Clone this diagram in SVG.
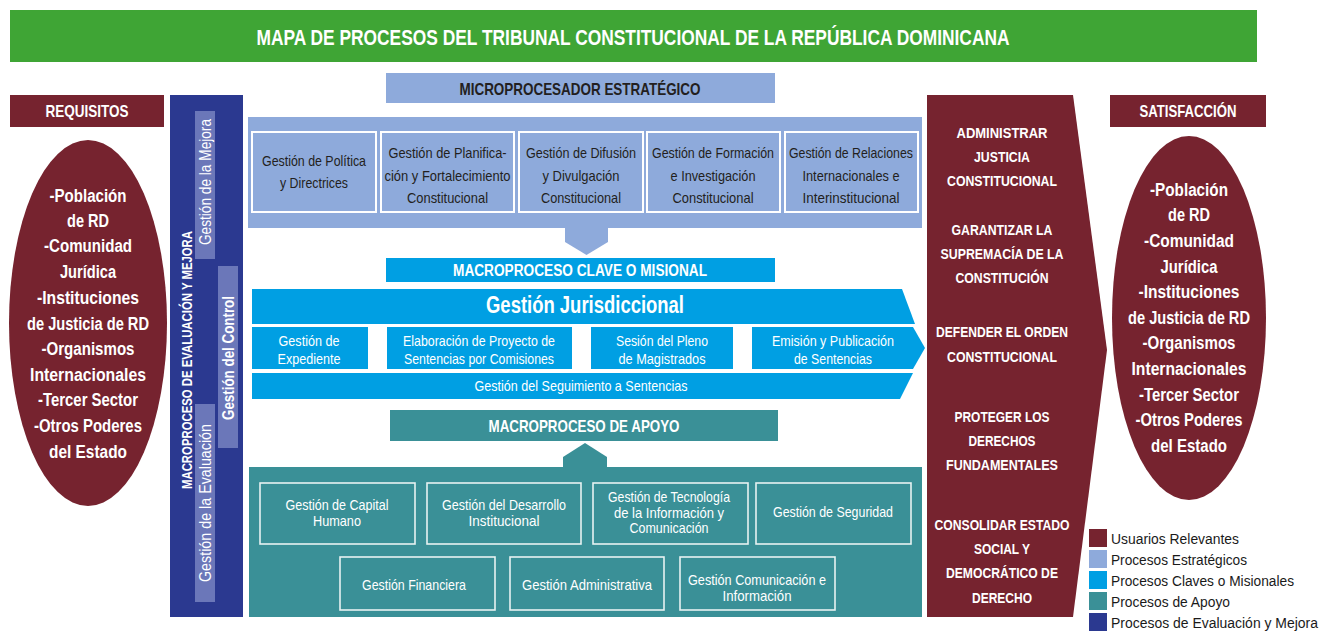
<svg xmlns="http://www.w3.org/2000/svg" width="1333" height="637" viewBox="0 0 1333 637">
<style>
text{font-family:"Liberation Sans",Arial,sans-serif;text-anchor:middle}
.w{fill:#fff}
.k{fill:#231f20}
.b{font-weight:bold}
.s15{font-size:15px}
.s16{font-size:16px}
.s17{font-size:17px}
.s18{font-size:18px}
.mar{fill:#76232f}
.est{fill:#8eaadb}
.cla{fill:#009fe3}
.apo{fill:#3a9097}
.nav{fill:#2b3990}
.sub{fill:#6b77b9}
.ebox{fill:none;stroke:#fff;stroke-width:2}
.abox{fill:none;stroke:#e8f2f2;stroke-width:1.6}
.lg{text-anchor:start;font-size:15.5px;fill:#1a1a1a}
</style>

<g id="title">
<rect x="10" y="10" width="1247" height="52" fill="#3fa535"/>
<text x="633" y="45" class="w b" font-size="22" textLength="753" lengthAdjust="spacingAndGlyphs">MAPA DE PROCESOS DEL TRIBUNAL CONSTITUCIONAL DE LA REPÚBLICA DOMINICANA</text>
</g>

<g id="requisitos">
<rect x="10" y="95" width="154" height="32" class="mar"/>
<text x="87" y="117" class="w b s17" textLength="83" lengthAdjust="spacingAndGlyphs">REQUISITOS</text>
</g>

<g id="requisitos-ellipse">
<ellipse cx="88" cy="323" rx="79" ry="183" class="mar"/>
<g class="w b s18">
<text x="88" y="202" textLength="77" lengthAdjust="spacingAndGlyphs">-Población</text>
<text x="88" y="227" textLength="42" lengthAdjust="spacingAndGlyphs">de RD</text>
<text x="88" y="252" textLength="88" lengthAdjust="spacingAndGlyphs">-Comunidad</text>
<text x="88" y="278" textLength="56" lengthAdjust="spacingAndGlyphs">Jurídica</text>
<text x="88" y="304" textLength="102" lengthAdjust="spacingAndGlyphs">-Instituciones</text>
<text x="88" y="330" textLength="122" lengthAdjust="spacingAndGlyphs">de Justicia de RD</text>
<text x="88" y="355" textLength="93" lengthAdjust="spacingAndGlyphs">-Organismos</text>
<text x="88" y="381" textLength="116" lengthAdjust="spacingAndGlyphs">Internacionales</text>
<text x="88" y="406" textLength="100" lengthAdjust="spacingAndGlyphs">-Tercer Sector</text>
<text x="88" y="432" textLength="108" lengthAdjust="spacingAndGlyphs">-Otros Poderes</text>
<text x="88" y="458" textLength="78" lengthAdjust="spacingAndGlyphs">del Estado</text>
</g>
</g>

<g id="evaluacion-mejora">
<rect x="170" y="95" width="73" height="522" class="nav"/>
<text x="191.5" y="360" class="w b" font-size="15" transform="rotate(-90 191.5 360)" textLength="258" lengthAdjust="spacingAndGlyphs">MACROPROCESO DE EVALUACIÓN Y MEJORA</text>
</g>
<g id="gestion-mejora">
<rect x="195" y="111" width="20" height="148" class="sub"/>
<text x="210.5" y="182" class="w s16" transform="rotate(-90 210.5 182)" textLength="126" lengthAdjust="spacingAndGlyphs">Gestión de la Mejora</text>
</g>
<g id="gestion-control">
<rect x="218" y="266" width="20" height="182" class="sub"/>
<text x="233.5" y="358" class="w b s16" transform="rotate(-90 233.5 358)" textLength="124" lengthAdjust="spacingAndGlyphs">Gestión del Control</text>
</g>
<g id="gestion-evaluacion">
<rect x="195" y="404" width="20" height="198" class="sub"/>
<text x="210.5" y="503" class="w s16" transform="rotate(-90 210.5 503)" textLength="158" lengthAdjust="spacingAndGlyphs">Gestión de la Evaluación</text>
</g>

<g id="estrategico-header">
<rect x="386" y="73" width="389" height="30" class="est"/>
<text x="580" y="95" class="k b s17" textLength="241" lengthAdjust="spacingAndGlyphs">MICROPROCESADOR ESTRATÉGICO</text>
</g>
<g id="estrategico">
<rect x="248" y="117" width="674" height="111" class="est"/>
</g>
<g id="politica">
<rect x="252" y="132" width="124" height="80" class="ebox"/>
<text x="314" y="166" class="k s15" textLength="104" lengthAdjust="spacingAndGlyphs">Gestión de Política</text>
<text x="314" y="188" class="k s15" textLength="68" lengthAdjust="spacingAndGlyphs">y Directrices</text>
</g>
<g id="planificacion">
<rect x="381" y="132" width="133" height="80" class="ebox"/>
<text x="447.5" y="158" class="k s15" textLength="118" lengthAdjust="spacingAndGlyphs">Gestión de Planifica-</text>
<text x="447.5" y="181" class="k s15" textLength="126" lengthAdjust="spacingAndGlyphs">ción y Fortalecimiento</text>
<text x="447.5" y="203" class="k s15" textLength="81" lengthAdjust="spacingAndGlyphs">Constitucional</text>
</g>
<g id="difusion">
<rect x="519" y="132" width="124" height="80" class="ebox"/>
<text x="581" y="158" class="k s15" textLength="110" lengthAdjust="spacingAndGlyphs">Gestión de Difusión</text>
<text x="581" y="181" class="k s15" textLength="77" lengthAdjust="spacingAndGlyphs">y Divulgación</text>
<text x="581" y="203" class="k s15" textLength="80" lengthAdjust="spacingAndGlyphs">Constitucional</text>
</g>
<g id="formacion">
<rect x="647" y="132" width="133" height="80" class="ebox"/>
<text x="713" y="158" class="k s15" textLength="122" lengthAdjust="spacingAndGlyphs">Gestión de Formación</text>
<text x="713" y="181" class="k s15" textLength="85" lengthAdjust="spacingAndGlyphs">e Investigación</text>
<text x="713" y="203" class="k s15" textLength="81" lengthAdjust="spacingAndGlyphs">Constitucional</text>
</g>
<g id="relaciones">
<rect x="785" y="132" width="133" height="80" class="ebox"/>
<text x="851" y="158" class="k s15" textLength="124" lengthAdjust="spacingAndGlyphs">Gestión de Relaciones</text>
<text x="851" y="181" class="k s15" textLength="97" lengthAdjust="spacingAndGlyphs">Internacionales e</text>
<text x="851" y="203" class="k s15" textLength="97" lengthAdjust="spacingAndGlyphs">Interinstitucional</text>
</g>

<g id="connectors">
<polygon points="565,228 608,228 608,242 586.5,255 565,242" class="est"/>
<polygon points="563,467 563,457 585,443 607,457 607,467" class="apo"/>
</g>

<g id="clave-header">
<rect x="386" y="258" width="389" height="24" class="cla"/>
<text x="580" y="276" class="w b s16" textLength="254" lengthAdjust="spacingAndGlyphs">MACROPROCESO CLAVE O MISIONAL</text>
</g>
<g id="jurisdiccional">
<polygon points="252,289 902,289 915,324 252,324" class="cla"/>
<text x="585" y="313" class="w b" font-size="23" textLength="198" lengthAdjust="spacingAndGlyphs">Gestión Jurisdiccional</text>
</g>
<g id="expediente">
<rect x="252" y="327" width="116" height="42" class="cla"/>
<text x="309" y="346" class="w s15" textLength="61" lengthAdjust="spacingAndGlyphs">Gestión de</text>
<text x="309" y="364" class="w s15" textLength="63" lengthAdjust="spacingAndGlyphs">Expediente</text>
</g>
<g id="elaboracion">
<rect x="387" y="327" width="185" height="42" class="cla"/>
<text x="479" y="346" class="w s15" textLength="152" lengthAdjust="spacingAndGlyphs">Elaboración de Proyecto de</text>
<text x="479" y="364" class="w s15" textLength="150" lengthAdjust="spacingAndGlyphs">Sentencias por Comisiones</text>
</g>
<g id="sesion">
<rect x="591" y="327" width="142" height="42" class="cla"/>
<text x="662" y="346" class="w s15" textLength="92" lengthAdjust="spacingAndGlyphs">Sesión del Pleno</text>
<text x="662" y="364" class="w s15" textLength="87" lengthAdjust="spacingAndGlyphs">de Magistrados</text>
</g>
<g id="emision">
<polygon points="752,327 913,327 925,348 913,369 752,369" class="cla"/>
<text x="833" y="346" class="w s15" textLength="122" lengthAdjust="spacingAndGlyphs">Emisión y Publicación</text>
<text x="833" y="364" class="w s15" textLength="78" lengthAdjust="spacingAndGlyphs">de Sentencias</text>
</g>
<g id="seguimiento">
<polygon points="252,373 913,373 900,399 252,399" class="cla"/>
<text x="581" y="391" class="w s15" textLength="213" lengthAdjust="spacingAndGlyphs">Gestión del Seguimiento a Sentencias</text>
</g>

<g id="apoyo-header">
<rect x="390" y="410" width="388" height="31" class="apo"/>
<text x="584" y="432" class="w b s17" textLength="191" lengthAdjust="spacingAndGlyphs">MACROPROCESO DE APOYO</text>
</g>
<g id="apoyo">
<rect x="249" y="467" width="673" height="150" class="apo"/>
</g>
<g id="capital">
<rect x="260" y="483" width="155" height="61" class="abox"/>
<text x="337" y="510" class="w s15" textLength="103" lengthAdjust="spacingAndGlyphs">Gestión de Capital</text>
<text x="337" y="526" class="w s15" textLength="48" lengthAdjust="spacingAndGlyphs">Humano</text>
</g>
<g id="desarrollo">
<rect x="427" y="483" width="154" height="61" class="abox"/>
<text x="504" y="510" class="w s15" textLength="124" lengthAdjust="spacingAndGlyphs">Gestión del Desarrollo</text>
<text x="504" y="526" class="w s15" textLength="71" lengthAdjust="spacingAndGlyphs">Institucional</text>
</g>
<g id="tecnologia">
<rect x="593" y="483" width="155" height="61" class="abox"/>
<text x="669" y="502" class="w s15" textLength="122" lengthAdjust="spacingAndGlyphs">Gestión de Tecnología</text>
<text x="669" y="518" class="w s15" textLength="110" lengthAdjust="spacingAndGlyphs">de la Información y</text>
<text x="669" y="533" class="w s15" textLength="79" lengthAdjust="spacingAndGlyphs">Comunicación</text>
</g>
<g id="seguridad">
<rect x="756" y="483" width="155" height="61" class="abox"/>
<text x="833" y="517" class="w s15" textLength="120" lengthAdjust="spacingAndGlyphs">Gestión de Seguridad</text>
</g>
<g id="financiera">
<rect x="340" y="557" width="155" height="53" class="abox"/>
<text x="414" y="590" class="w s15" textLength="104" lengthAdjust="spacingAndGlyphs">Gestión Financiera</text>
</g>
<g id="administrativa">
<rect x="510" y="557" width="154" height="53" class="abox"/>
<text x="587" y="590" class="w s15" textLength="130" lengthAdjust="spacingAndGlyphs">Gestión Administrativa</text>
</g>
<g id="comunicacion">
<rect x="680" y="557" width="155" height="53" class="abox"/>
<text x="757" y="585" class="w s15" textLength="138" lengthAdjust="spacingAndGlyphs">Gestión  Comunicación e</text>
<text x="757" y="601" class="w s15" textLength="69" lengthAdjust="spacingAndGlyphs">Información</text>
</g>

<g id="resultados">
<polygon points="927,95 1073,95 1107,350 1073,617 927,617" class="mar"/>
<g class="w b s15">
<text x="1002" y="138" textLength="91" lengthAdjust="spacingAndGlyphs">ADMINISTRAR</text>
<text x="1002" y="162" textLength="56" lengthAdjust="spacingAndGlyphs">JUSTICIA</text>
<text x="1002" y="186" textLength="110" lengthAdjust="spacingAndGlyphs">CONSTITUCIONAL</text>
<text x="1002" y="235" textLength="101" lengthAdjust="spacingAndGlyphs">GARANTIZAR LA</text>
<text x="1002" y="259" textLength="123" lengthAdjust="spacingAndGlyphs">SUPREMACÍA DE LA</text>
<text x="1002" y="283" textLength="93" lengthAdjust="spacingAndGlyphs">CONSTITUCIÓN</text>
<text x="1002" y="337" textLength="132" lengthAdjust="spacingAndGlyphs">DEFENDER EL ORDEN</text>
<text x="1002" y="362" textLength="110" lengthAdjust="spacingAndGlyphs">CONSTITUCIONAL</text>
<text x="1002" y="422" textLength="95" lengthAdjust="spacingAndGlyphs">PROTEGER LOS</text>
<text x="1002" y="446" textLength="67" lengthAdjust="spacingAndGlyphs">DERECHOS</text>
<text x="1002" y="470" textLength="112" lengthAdjust="spacingAndGlyphs">FUNDAMENTALES</text>
<text x="1002" y="530" textLength="135" lengthAdjust="spacingAndGlyphs">CONSOLIDAR ESTADO</text>
<text x="1002" y="554" textLength="56" lengthAdjust="spacingAndGlyphs">SOCIAL Y</text>
<text x="1002" y="578" textLength="112" lengthAdjust="spacingAndGlyphs">DEMOCRÁTICO DE</text>
<text x="1002" y="603" textLength="60" lengthAdjust="spacingAndGlyphs">DERECHO</text>
</g>
</g>

<g id="satisfaccion">
<rect x="1110" y="95" width="156" height="32" class="mar"/>
<text x="1188" y="117" class="w b s17" textLength="97" lengthAdjust="spacingAndGlyphs">SATISFACCIÓN</text>
</g>
<g id="satisfaccion-ellipse">
<ellipse cx="1189" cy="318" rx="77" ry="182" class="mar"/>
<g class="w b s18">
<text x="1189" y="196" textLength="78" lengthAdjust="spacingAndGlyphs">-Población</text>
<text x="1189" y="221" textLength="42" lengthAdjust="spacingAndGlyphs">de RD</text>
<text x="1189" y="247" textLength="90" lengthAdjust="spacingAndGlyphs">-Comunidad</text>
<text x="1189" y="273" textLength="57" lengthAdjust="spacingAndGlyphs">Jurídica</text>
<text x="1189" y="298" textLength="101" lengthAdjust="spacingAndGlyphs">-Instituciones</text>
<text x="1189" y="324" textLength="122" lengthAdjust="spacingAndGlyphs">de Justicia de RD</text>
<text x="1189" y="349" textLength="93" lengthAdjust="spacingAndGlyphs">-Organismos</text>
<text x="1189" y="375" textLength="115" lengthAdjust="spacingAndGlyphs">Internacionales</text>
<text x="1189" y="401" textLength="100" lengthAdjust="spacingAndGlyphs">-Tercer Sector</text>
<text x="1189" y="426" textLength="107" lengthAdjust="spacingAndGlyphs">-Otros Poderes</text>
<text x="1189" y="452" textLength="76" lengthAdjust="spacingAndGlyphs">del Estado</text>
</g>
</g>

<g id="leyenda">
<rect x="1089" y="529" width="18" height="18" class="mar"/>
<rect x="1089" y="550" width="18" height="18" class="est"/>
<rect x="1089" y="571" width="18" height="18" class="cla"/>
<rect x="1089" y="592" width="18" height="18" class="apo"/>
<rect x="1089" y="613" width="18" height="18" class="nav"/>
<text x="1111" y="544" class="lg" textLength="128" lengthAdjust="spacingAndGlyphs">Usuarios Relevantes</text>
<text x="1111" y="565" class="lg" textLength="136" lengthAdjust="spacingAndGlyphs">Procesos Estratégicos</text>
<text x="1111" y="586" class="lg" textLength="183" lengthAdjust="spacingAndGlyphs">Procesos Claves o Misionales</text>
<text x="1111" y="607" class="lg" textLength="119" lengthAdjust="spacingAndGlyphs">Procesos de Apoyo</text>
<text x="1111" y="628" class="lg" textLength="207" lengthAdjust="spacingAndGlyphs">Procesos de Evaluación y Mejora</text>
</g>
</svg>
